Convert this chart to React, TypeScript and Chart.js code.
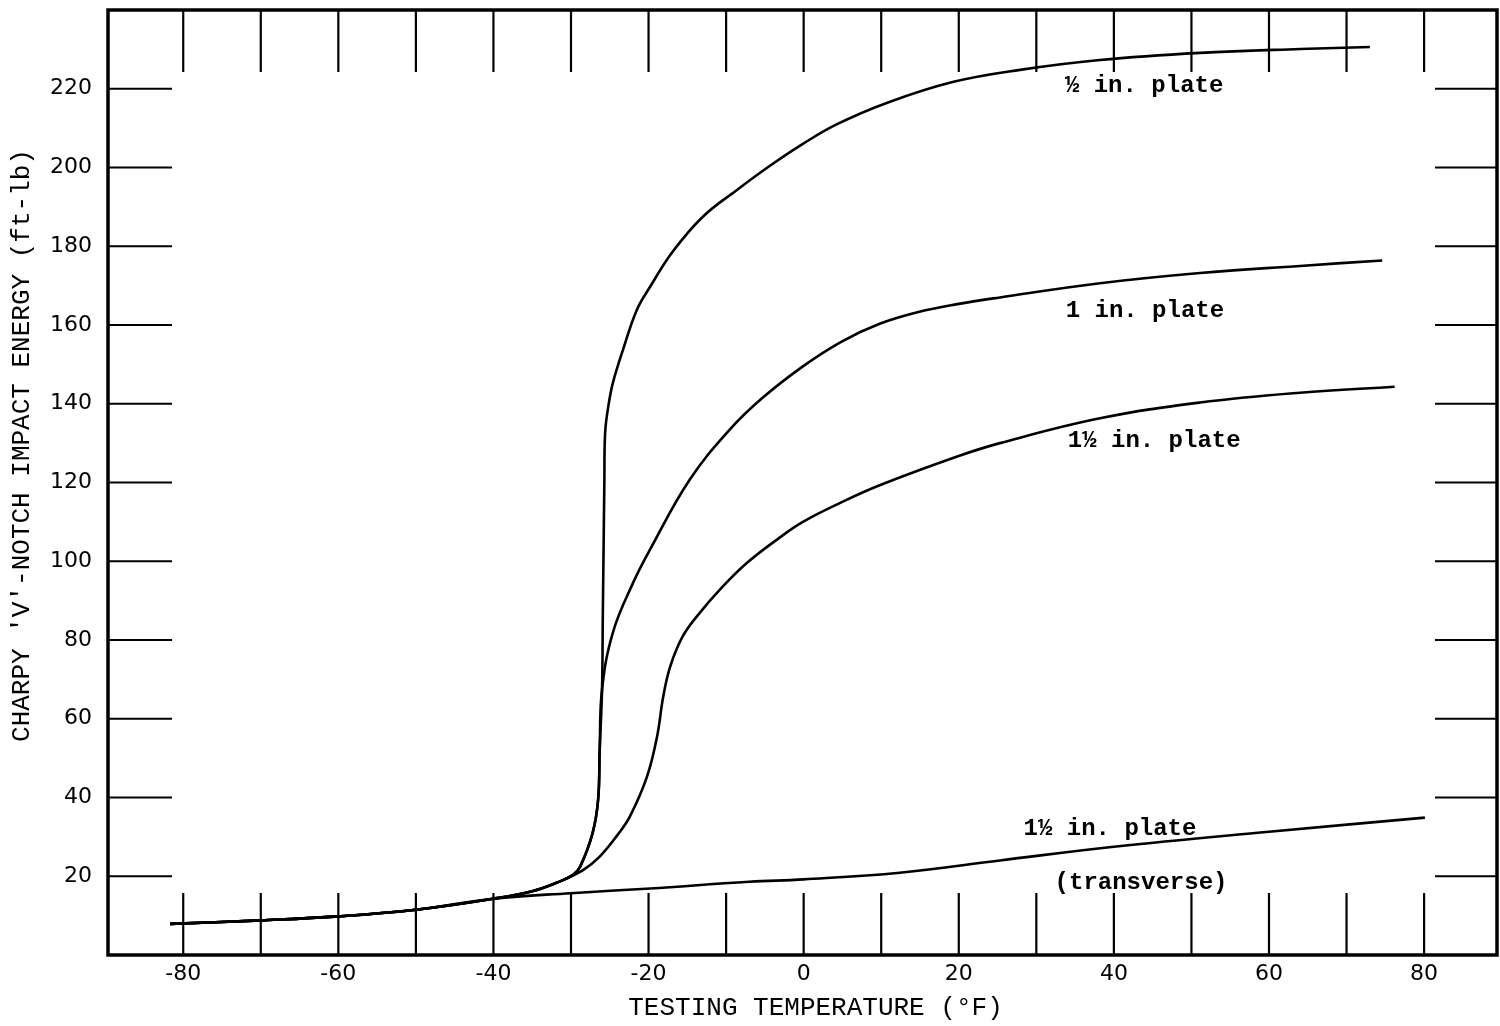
import React, { useEffect, useRef } from "react";
import { Chart, registerables } from "chart.js";

Chart.register(...registerables);

// Axis ticks
const xTickValues = [-80, -60, -40, -20, 0, 20, 40, 60, 80];
const xMinorTicks = [-80, -70, -60, -50, -40, -30, -20, -10, 0, 10, 20, 30, 40, 50, 60, 70, 80];
const yTickValues = [20, 40, 60, 80, 100, 120, 140, 160, 180, 200, 220];

// 1/2 in. plate
const halfTemp = [-81.7, -70, -60, -50, -40, -35, -31.8, -29.7, -28.8, -27.2, -26.5, -26.3, -26.0, -25.9, -25.8, -25.7, -25.6, -25.2, -24.6, -23.3, -21.5, -19.8, -16.9, -13.0, -8.6, -4.3, -0.1, 4.3, 10.7, 19.2, 27.9, 38.2, 51.1, 64.0, 73.0];
const halfEnergy = [7.9, 8.8, 9.8, 11.5, 14.3, 16.2, 18.4, 20.4, 22.5, 31.1, 39.5, 52.1, 67.4, 85.9, 102.9, 119.9, 132.6, 139.2, 145.3, 153.7, 163.9, 169.7, 178.6, 187.5, 194.3, 200.5, 206.0, 211.0, 216.4, 221.7, 224.8, 227.3, 229.1, 230.1, 230.6];

// 1 in. plate
const oneTemp = [-81.7, -70, -60, -50, -40, -35, -31.8, -29.7, -28.8, -27.2, -26.5, -26.3, -26.0, -24.6, -22.0, -19.8, -14.7, -9.5, -5.3, -0.1, 4.9, 9.8, 14.8, 19.8, 25.3, 38.2, 51.1, 64.0, 74.6];
const oneEnergy = [7.9, 8.8, 9.8, 11.5, 14.3, 16.2, 18.4, 20.4, 22.5, 31.1, 39.5, 52.1, 67.4, 81.9, 94.5, 103.0, 120.7, 133.5, 141.5, 149.5, 155.8, 160.3, 163.3, 165.3, 167.0, 170.6, 173.2, 175.0, 176.4];

// 1 1/2 in. plate
const oneHalfTemp = [-81.7, -70, -60, -50, -40, -35, -31.8, -28.5, -26.3, -24.0, -22.4, -20.2, -18.9, -18.1, -17.2, -15.6, -13.4, -10.8, -7.3, -3.1, -0.1, 4.9, 9.8, 19.8, 25.3, 38.2, 51.1, 64.0, 76.2];
const oneHalfEnergy = [7.9, 8.8, 9.8, 11.5, 14.3, 16.2, 18.4, 21.5, 25.0, 30.5, 35.2, 45.3, 55.5, 65.7, 73.3, 80.9, 86.9, 92.8, 99.6, 106.0, 110.0, 115.0, 119.3, 126.6, 130.0, 136.3, 140.3, 142.8, 144.3];

// 1 1/2 in. plate (transverse)
const transTemp = [-81.7, -70, -60, -50, -40, -30, -19.8, -7.0, 0, 12.4, 25.3, 40, 60, 80.1];
const transEnergy = [7.9, 8.8, 9.8, 11.5, 14.3, 15.7, 16.9, 18.6, 19.2, 20.9, 24.0, 27.5, 31.3, 34.9];

// Curve annotations (data coordinates)
const curveLabels = [
  { text: "\u00BD in. plate", x: 43.9, y: 220.7 },
  { text: "1 in. plate", x: 44.0, y: 163.6 },
  { text: "1\u00BD in. plate", x: 45.2, y: 130.6 },
  { text: "1\u00BD in. plate", x: 39.5, y: 31.9 },
  { text: "(transverse)", x: 43.5, y: 18.4 },
];

const xTitle = "TESTING TEMPERATURE (\u00B0F)";
const yTitle = "CHARPY 'V'-NOTCH IMPACT ENERGY (ft-lb)";

const zip = (xs: number[], ys: number[]) => xs.map((x, i) => ({ x, y: ys[i] }));

const framePlugin = {
  id: "frameTicks",
  afterDraw(chart: any) {
    const { ctx, chartArea, scales } = chart;
    const { left, right, top, bottom } = chartArea;
    const xs = scales.x;
    const ys = scales.y;
    ctx.save();
    ctx.strokeStyle = "#000";
    ctx.lineWidth = 2.2;
    ctx.beginPath();
    for (const v of xMinorTicks) {
      const px = xs.getPixelForValue(v);
      ctx.moveTo(px, top);
      ctx.lineTo(px, top + 62);
      ctx.moveTo(px, bottom);
      ctx.lineTo(px, bottom - 62);
    }
    for (const v of yTickValues) {
      const py = ys.getPixelForValue(v);
      ctx.moveTo(left, py);
      ctx.lineTo(left + 64, py);
      ctx.moveTo(right, py);
      ctx.lineTo(right - 62, py);
    }
    ctx.stroke();
    ctx.lineWidth = 3.5;
    ctx.strokeRect(left, top, right - left, bottom - top);

    ctx.fillStyle = "#000";
    ctx.textAlign = "center";
    ctx.textBaseline = "middle";
    ctx.font = 'bold 24px "Liberation Mono"';
    for (const l of curveLabels) {
      ctx.fillText(l.text, xs.getPixelForValue(l.x), ys.getPixelForValue(l.y));
    }

    ctx.font = '26px "Liberation Mono"';
    ctx.fillText(xTitle, (left + right) / 2 + 13, bottom + 53);
    ctx.save();
    ctx.translate(22, (top + bottom) / 2 - 37);
    ctx.rotate(-Math.PI / 2);
    ctx.fillText(yTitle, 0, 0);
    ctx.restore();
    ctx.restore();
  },
};

export default function App() {
  const ref = useRef<HTMLCanvasElement | null>(null);
  useEffect(() => {
    if (!ref.current) return;
    const line = (xs: number[], ys: number[]) => ({
      data: zip(xs, ys),
      borderColor: "#000",
      borderWidth: 2.6,
      pointRadius: 0,
      fill: false,
      tension: 0.4,
    });
    const chart = new Chart(ref.current, {
      type: "line",
      data: {
        datasets: [
          line(halfTemp, halfEnergy),
          line(oneTemp, oneEnergy),
          line(oneHalfTemp, oneHalfEnergy),
          line(transTemp, transEnergy),
        ],
      },
      options: {
        animation: false,
        responsive: false,
        layout: { padding: { top: 10, right: 3, left: 0, bottom: 0 } },
        plugins: { legend: { display: false }, tooltip: { enabled: false } },
        scales: {
          x: {
            type: "linear",
            min: -89.7,
            max: 89.4,
            grid: { display: false, drawTicks: false },
            border: { display: false },
            ticks: {
              color: "#000",
              font: { family: "DejaVu Sans", size: 22 },
              padding: 6,
              maxRotation: 0,
              autoSkip: false,
            },
            afterBuildTicks: (s: any) => {
              s.ticks = xTickValues.map((v) => ({ value: v }));
            },
            afterFit: (s: any) => {
              s.height = 71;
              s.paddingLeft = 0;
              s.paddingRight = 0;
            },
          },
          y: {
            type: "linear",
            min: 0,
            max: 240,
            grid: { display: false, drawTicks: false },
            border: { display: false },
            ticks: {
              color: "#000",
              font: { family: "DejaVu Sans", size: 22 },
              padding: 16,
              autoSkip: false,
            },
            afterBuildTicks: (s: any) => {
              s.ticks = yTickValues.map((v) => ({ value: v }));
            },
            afterFit: (s: any) => {
              s.width = 108;
              s.paddingTop = 0;
              s.paddingBottom = 0;
            },
          },
        },
      },
      plugins: [framePlugin],
    });
    return () => chart.destroy();
  }, []);
  return (
    <div style={{ position: "fixed", left: 0, top: 0, width: 1500, height: 1026, background: "#fff" }}>
      <canvas ref={ref} width={1500} height={1026} style={{ display: "block" }} />
    </div>
  );
}
